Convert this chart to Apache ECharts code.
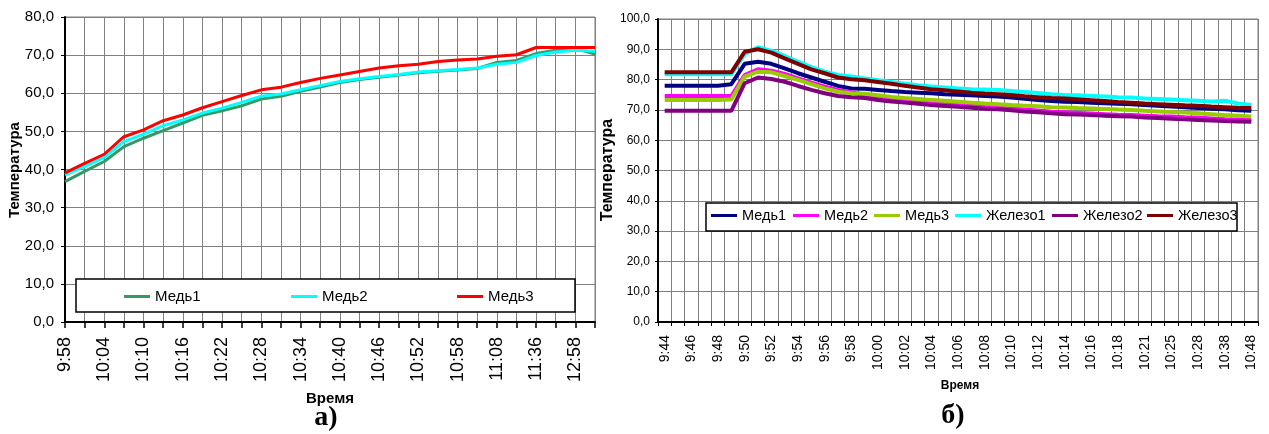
<!DOCTYPE html>
<html>
<head>
<meta charset="utf-8">
<script src="https://cdn.jsdelivr.net/npm/echarts@6.0.0/dist/echarts.min.js"></script>
<style>
  html, body { margin: 0; padding: 0; background: #fff; }
  #wrap { position: relative; width: 1269px; height: 434px; overflow: hidden; background: #fff; }
  #chartA { position: absolute; left: 0; top: 0; width: 600px; height: 434px; }
  #chartB { position: absolute; left: 600px; top: 0; width: 669px; height: 434px; }
</style>
</head>
<body>
<div id="wrap">
  <div id="chartA"></div>
  <div id="chartB"></div>
</div>
<script>
// ---- Panel а): copy samples ----
const timesA = ['9:58','10:01','10:04','10:07','10:10','10:13','10:16','10:19','10:22','10:25',
  '10:28','10:31','10:34','10:37','10:40','10:43','10:46','10:49','10:52','10:55',
  '10:58','11:03','11:08','11:22','11:36','12:17','12:58','13:20'];
const med1A = [36.8,39.5,42.1,46.0,48.2,50.2,52.2,54.2,55.4,56.7,58.5,59.2,60.5,61.6,62.8,63.6,64.2,64.8,65.4,65.8,66.1,66.5,68.1,68.6,70.4,71.3,71.7,70.3];
const med2A = [38.6,40.8,43.2,47.3,49.3,51.5,53.0,54.8,56.1,57.6,59.2,59.8,60.9,62.0,63.1,63.8,64.4,64.9,65.6,65.9,66.2,66.6,67.6,68.1,69.9,70.8,71.3,71.0];
const med3A = [39.1,41.6,44.0,48.6,50.4,52.8,54.3,56.2,57.8,59.4,60.9,61.6,62.8,63.9,64.8,65.7,66.6,67.2,67.6,68.3,68.7,69.0,69.7,70.1,72.0,72.0,72.0,72.0];

// ---- Panel б): copy and iron samples ----
const timesB = ['9:44','9:45','9:46','9:47','9:48','9:49','9:50','9:51','9:52','9:53',
  '9:54','9:55','9:56','9:57','9:58','9:59','10:00','10:01','10:02','10:03',
  '10:04','10:05','10:06','10:07','10:08','10:09','10:10','10:11','10:12','10:13',
  '10:14','10:15','10:16','10:17','10:18','10:20','10:21','10:23','10:25','10:27',
  '10:28','10:33','10:38','10:43','10:48'];
const med1B = [78.0,78.0,78.0,78.0,78.0,78.5,85.2,85.9,85.2,83.7,82.1,80.7,79.3,77.9,77.1,77.0,76.6,76.2,75.9,75.7,75.5,75.2,75.0,74.8,74.6,74.4,74.1,73.7,73.3,72.9,72.7,72.6,72.4,72.2,72.0,71.9,71.6,71.4,71.1,70.9,70.6,70.4,70.2,69.9,69.7];
const med2B = [74.6,74.6,74.6,74.6,74.6,74.6,81.5,83.4,82.9,81.9,80.4,79.0,77.7,76.6,75.8,75.0,74.4,73.7,73.1,72.6,72.2,71.9,71.6,71.3,71.0,70.8,70.5,70.1,69.8,69.4,69.2,69.0,68.8,68.6,68.4,68.3,68.1,67.9,67.8,67.6,67.5,67.2,66.9,66.8,66.7];
const med3B = [73.3,73.3,73.3,73.3,73.3,73.4,81.0,82.6,82.4,81.2,79.9,78.5,77.1,76.0,75.5,75.3,74.8,74.3,73.9,73.6,73.3,73.0,72.7,72.4,72.1,71.9,71.6,71.4,71.2,70.9,70.8,70.6,70.5,70.3,70.1,70.0,69.7,69.5,69.3,69.1,68.9,68.6,68.3,68.1,67.8];
const fe1B  = [81.8,81.8,81.8,81.8,81.8,81.8,88.5,90.7,89.5,87.8,85.9,84.1,82.6,81.5,81.0,80.4,79.8,79.2,78.6,78.1,77.7,77.4,77.1,76.8,76.7,76.6,76.2,75.9,75.6,75.2,74.9,74.8,74.6,74.4,74.2,74.1,73.8,73.6,73.4,73.2,73.0,72.8,73.0,72.1,71.6];
const fe2B  = [69.7,69.7,69.7,69.7,69.7,69.7,78.8,80.7,80.2,79.3,77.9,76.6,75.5,74.6,74.2,73.9,73.3,72.8,72.4,72.0,71.6,71.3,71.0,70.7,70.4,70.2,69.9,69.5,69.2,68.9,68.6,68.5,68.3,68.1,67.9,67.8,67.5,67.3,67.1,66.9,66.7,66.5,66.3,66.2,66.1];
const fe3B  = [82.4,82.4,82.4,82.4,82.4,82.4,89.2,90.0,88.9,87.0,85.2,83.4,82.1,80.7,80.1,79.8,79.2,78.6,78.0,77.4,76.8,76.5,76.1,75.7,75.4,75.2,74.9,74.5,74.2,73.9,73.8,73.5,73.2,72.9,72.6,72.4,72.1,71.9,71.7,71.5,71.4,71.1,70.9,70.7,70.6];

const SANS = "'Liberation Sans', Arial, sans-serif";
const SERIF = "'Liberation Serif', 'Times New Roman', serif";
const GRIDLINE = '#808080';

function commaFmt(v) { return v.toFixed(1).replace('.', ','); }

function lineSeries(name, data, color, width) {
  return {
    name: name, type: 'line', data: data, showSymbol: false, symbol: 'none',
    lineStyle: { color: color, width: width }, itemStyle: { color: color },
    emphasis: { disabled: true }, animation: false
  };
}

function legendItem(name, left, top, fontSize, h) {
  return {
    show: true, data: [name], left: left, top: top, padding: 0, itemGap: 0,
    itemWidth: 26, itemHeight: 3, icon: 'rect', selectedMode: false, z: 20,
    textStyle: { fontFamily: SANS, fontSize: fontSize, color: '#000', lineHeight: h }
  };
}

// ---------- Chart а) ----------
const chartA = echarts.init(document.getElementById('chartA'), null, { renderer: 'canvas' });
chartA.setOption({
  animation: false,
  grid: { left: 65, top: 17, width: 530, height: 305, show: true, borderColor: '#808080', borderWidth: 1 },
  xAxis: {
    type: 'category', data: timesA, boundaryGap: false,
    axisLine: { lineStyle: { color: '#000', width: 2 } },
    axisTick: { show: true, interval: 0, length: 6, lineStyle: { color: '#000', width: 1.5 } },
    axisLabel: { interval: 1, rotate: 90, margin: 15, fontFamily: SANS, fontSize: 18, color: '#000' },
    splitLine: { show: true, interval: 0, lineStyle: { color: GRIDLINE, width: 1 } }
  },
  yAxis: {
    type: 'value', min: 0, max: 80, interval: 10,
    axisLine: { show: true, lineStyle: { color: '#000', width: 2 } },
    axisTick: { show: true, length: 4, lineStyle: { color: '#000' } },
    axisLabel: { formatter: commaFmt, margin: 11, fontFamily: SANS, fontSize: 15, color: '#000' },
    splitLine: { show: true, lineStyle: { color: GRIDLINE, width: 1 } }
  },
  legend: [
    legendItem('Медь1', 124, 288, 15, 17),
    legendItem('Медь2', 291, 288, 15, 17),
    legendItem('Медь3', 457, 288, 15, 17)
  ],
  graphic: [
    { type: 'rect', z: 10, shape: { x: 76, y: 279, width: 499, height: 33 },
      style: { fill: '#fff', stroke: '#000', lineWidth: 1.5 } },
    { type: 'text', z: 10, x: 15, y: 170, rotation: Math.PI / 2,
      style: { text: 'Температура', font: 'bold 15px ' + SANS, fill: '#000', align: 'center', verticalAlign: 'middle' } },
    { type: 'text', z: 10, x: 330, y: 399,
      style: { text: 'Время', font: 'bold 15px ' + SANS, fill: '#000', align: 'center', verticalAlign: 'middle' } },
    { type: 'text', z: 10, x: 326, y: 418,
      style: { text: 'а)', font: 'bold 28px ' + SERIF, fill: '#000', align: 'center', verticalAlign: 'middle' } }
  ],
  series: [
    lineSeries('Медь1', med1A, '#339966', 3),
    lineSeries('Медь2', med2A, '#00FFFF', 3),
    lineSeries('Медь3', med3A, '#FF0000', 3)
  ]
});

// ---------- Chart б) ----------
const chartB = echarts.init(document.getElementById('chartB'), null, { renderer: 'canvas' });
chartB.setOption({
  animation: false,
  grid: { left: 58, top: 19, width: 600, height: 303, show: true, borderColor: '#808080', borderWidth: 1 },
  xAxis: {
    type: 'category', data: timesB, boundaryGap: true,
    axisLine: { lineStyle: { color: '#000', width: 2 } },
    axisTick: { show: true, interval: 0, length: 4, lineStyle: { color: '#000' } },
    axisLabel: { interval: 1, rotate: 90, margin: 13, fontFamily: SANS, fontSize: 14, color: '#000' },
    splitLine: { show: true, interval: 0, lineStyle: { color: GRIDLINE, width: 1 } }
  },
  yAxis: {
    type: 'value', min: 0, max: 100, interval: 10,
    axisLine: { show: true, lineStyle: { color: '#000', width: 2 } },
    axisTick: { show: true, length: 3, lineStyle: { color: '#000' } },
    axisLabel: { formatter: commaFmt, margin: 8, fontFamily: SANS, fontSize: 12, color: '#000' },
    splitLine: { show: true, lineStyle: { color: GRIDLINE, width: 1 } }
  },
  legend: [
    legendItem('Медь1', 111, 208, 14.5, 15),
    legendItem('Медь2', 193, 208, 14.5, 15),
    legendItem('Медь3', 274, 208, 14.5, 15),
    legendItem('Железо1', 355, 208, 14.5, 15),
    legendItem('Железо2', 452, 208, 14.5, 15),
    legendItem('Железо3', 547, 208, 14.5, 15)
  ],
  graphic: [
    { type: 'rect', z: 10, shape: { x: 106, y: 203, width: 531, height: 28 },
      style: { fill: '#fff', stroke: '#000', lineWidth: 1.5 } },
    { type: 'text', z: 10, x: 8, y: 170, rotation: Math.PI / 2,
      style: { text: 'Температура', font: 'bold 16px ' + SANS, fill: '#000', align: 'center', verticalAlign: 'middle' } },
    { type: 'text', z: 10, x: 360, y: 386,
      style: { text: 'Время', font: 'bold 12px ' + SANS, fill: '#000', align: 'center', verticalAlign: 'middle' } },
    { type: 'text', z: 10, x: 353, y: 416,
      style: { text: 'б)', font: 'bold 28px ' + SERIF, fill: '#000', align: 'center', verticalAlign: 'middle' } }
  ],
  series: [
    lineSeries('Медь1', med1B, '#000080', 4),
    lineSeries('Медь2', med2B, '#FF00FF', 4),
    lineSeries('Медь3', med3B, '#99CC00', 4),
    lineSeries('Железо1', fe1B, '#00FFFF', 4),
    lineSeries('Железо2', fe2B, '#800080', 4),
    lineSeries('Железо3', fe3B, '#800000', 4)
  ]
});
</script>
</body>
</html>
